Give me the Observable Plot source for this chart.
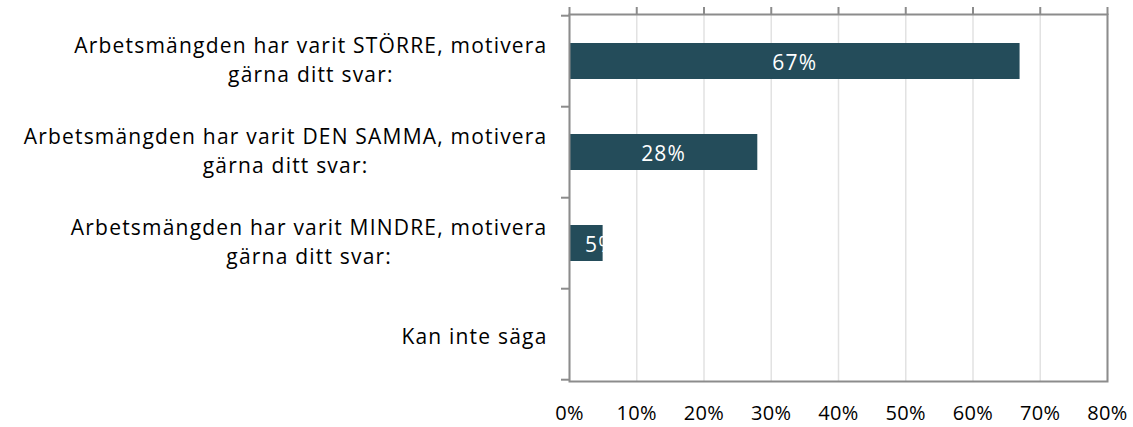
<!DOCTYPE html>
<html>
<head>
<meta charset="utf-8">
<script src="https://cdn.jsdelivr.net/npm/d3@7"></script>
<script src="https://cdn.jsdelivr.net/npm/@observablehq/plot@0.6"></script>
<style>
  html, body { margin: 0; padding: 0; background: #fff; }
</style>
</head>
<body>
<div id="chart"></div>
<script>
const categories = [
  "Arbetsmängden har varit STÖRRE, motivera\ngärna ditt svar:",
  "Arbetsmängden har varit DEN SAMMA, motivera\ngärna ditt svar:",
  "Arbetsmängden har varit MINDRE, motivera\ngärna ditt svar:",
  "Kan inte säga"
];
const values = [0.67, 0.28, 0.05, 0];
const xTicks = [0, 0.1, 0.2, 0.3, 0.4, 0.5, 0.6, 0.7, 0.8];
const tickLabels = ["0%", "10%", "20%", "30%", "40%", "50%", "60%", "70%", "80%"];

const data = categories.map((c, i) => ({category: c, value: values[i]}));
const pct = d3.format(".0%");
const axisColor = "#8c8c8c";

const chart = Plot.plot({
  width: 1133,
  height: 427,
  marginLeft: 569,
  marginRight: 26,
  marginTop: 14,
  marginBottom: 46,
  style: "font-family: 'Open Sans', sans-serif; font-size: 21px; letter-spacing: 1.2px; color: #000; background: #fff; overflow: visible;",
  x: {domain: [0, 0.8]},
  y: {domain: categories, paddingInner: 0.6, paddingOuter: 0.3},
  marks: [
    Plot.gridX(xTicks, {stroke: "#e2e2e2", strokeOpacity: 1, strokeWidth: 1.5}),
    Plot.barX(data, {x: "value", y: "category", fill: "#244c5a"}),
    Plot.text(data.filter(d => d.value > 0), {
      x: d => d.value / 2, y: "category", text: d => pct(d.value),
      fill: "white", fontSize: 21, dy: 2
    }),
    Plot.frame({stroke: axisColor, strokeWidth: 2}),
    Plot.axisX(xTicks, {
      anchor: "bottom", tickSize: 0, tickPadding: 24, label: null,
      tickFormat: (d, i) => tickLabels[i], fontSize: 20
    }),
    Plot.axisX(xTicks, {
      anchor: "top", tickSize: 8, label: null, tickFormat: () => "",
      stroke: axisColor, strokeWidth: 2
    }),
    Plot.axisY({
      anchor: "left", tickSize: 0, tickPadding: 22, label: null, lineHeight: 1.34
    })
  ]
});

document.getElementById("chart").append(chart);
const svg = d3.select(chart);
const svgRect = chart.getBoundingClientRect();

// x tick labels with little letter spacing
svg.selectAll('g[aria-label="x-axis tick label"]').style("letter-spacing", "0.3px");

// keep bar value labels from sliding left of the plot area (as the original does)
svg.selectAll('g[aria-label="text"] text').each(function() {
  const r = this.getBoundingClientRect();
  const left = r.left - svgRect.left;
  const minLeft = 569 + 16;
  if (left < minLeft) {
    const shift = minLeft - left;
    this.setAttribute("transform", (this.getAttribute("transform") || "") + ` translate(${shift},0)`);
  }
});

// left-side tick marks at the band boundaries, from the y scale
const ys = chart.scale("y");
const step = ys.step;
const n = categories.length;
const g = svg.append("g").attr("stroke", axisColor).attr("stroke-width", 2);
const top0 = ys.apply(categories[0]) - step * ys.paddingOuter;
for (let i = 0; i <= n; i++) {
  const y = top0 + i * step;
  g.append("line").attr("x1", 569 - 8).attr("x2", 569).attr("y1", y).attr("y2", y);
}

// center the lines of each multi-line category label within its block
svg.selectAll('g[aria-label="y-axis tick label"] text').each(function() {
  const tspans = Array.from(this.querySelectorAll("tspan"));
  if (tspans.length < 2) return;
  const w = Math.max(...tspans.map(t => t.getComputedTextLength()));
  this.setAttribute("text-anchor", "middle");
  const x0 = parseFloat(this.getAttribute("x") || "0");
  this.setAttribute("x", x0 - w / 2);
  tspans.forEach(t => {
    const tx = t.getAttribute("x");
    if (tx !== null) t.setAttribute("x", parseFloat(tx) - w / 2);
  });
  this.setAttribute("transform", (this.getAttribute("transform") || "") + " translate(0,-3)");
});
</script>
</body>
</html>
